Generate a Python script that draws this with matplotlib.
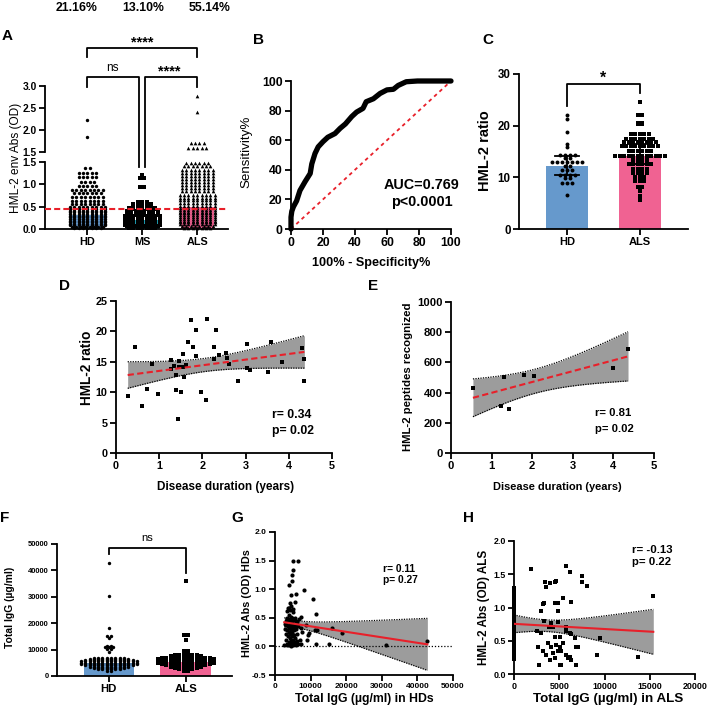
import numpy as np
import matplotlib
matplotlib.use("Agg")
import matplotlib.pyplot as plt

plt.rcParams['font.family'] = ['Liberation Sans', 'DejaVu Sans']
plt.rcParams['font.weight'] = 'bold'
plt.rcParams['axes.unicode_minus'] = False

# ---------------- data ----------------
top_pcts = ['21.16%', '13.10%', '55.14%']
a_groups = ['HD', 'MS', 'ALS']
a_cutoff = 0.44
a_bar_means = [0.32, 0.20, 0.50]
hd_lv = [2.22, 1.85, 1.36, 1.26, 1.16, 1.06, 0.96, 0.87, 0.80, 0.72, 0.63, 0.56, 0.50,
         0.45, 0.41, 0.37, 0.33, 0.29, 0.26, 0.22, 0.19, 0.15, 0.12, 0.08, 0.05, 0.02]
hd_ct = [1, 1, 2, 5, 5, 4, 5, 8, 7, 8, 8, 8, 9, 9, 9, 9, 9, 9, 9, 9, 9, 9, 9, 9, 8, 7]
ms_lv = [1.20, 1.15, 0.95, 0.61, 0.57, 0.52, 0.48, 0.44, 0.40, 0.36, 0.32, 0.29, 0.25,
         0.22, 0.18, 0.15, 0.12, 0.09, 0.06, 0.03]
ms_ct = [1, 2, 2, 3, 5, 5, 7, 7, 8, 8, 8, 9, 9, 9, 9, 9, 9, 9, 8, 7]
als_lv = [2.78, 2.40, 1.70, 1.58, 1.47, 1.40, 1.33, 1.26, 1.19, 1.12, 1.05, 0.98, 0.91,
          0.84, 0.77, 0.70, 0.64, 0.58, 0.52, 0.47, 0.43, 0.39, 0.35, 0.31, 0.27, 0.23,
          0.19, 0.15, 0.11, 0.07, 0.03]
als_ct = [1, 1, 4, 5, 6, 7, 8, 8, 8, 8, 8, 8, 8, 8, 9, 9, 9, 9, 9, 9, 9, 9, 9, 9, 9, 9,
          9, 9, 9, 8, 7]

roc_fpr = [0, 0, 0.5, 1.5, 3.5, 5.6, 8.8, 12, 13, 15, 17, 20, 23, 27.5, 30.7, 34, 38, 41,
           45, 47, 51.5, 55.7, 60, 64, 67, 72, 79, 91, 100]
roc_tpr = [0, 8, 12, 15, 19, 26, 32, 37.5, 44, 51, 55.5, 59, 62, 64.5, 68, 71, 76, 79,
           81.5, 86, 88, 91.6, 94, 94.4, 97, 99.5, 100, 100, 100]
roc_text = ['AUC=0.769', 'p<0.0001']

c_groups = ['HD', 'ALS']
c_bar = [12.2, 14.1]
c_err_lo = [10.5, 12.6]
c_err_hi = [14.2, 16.5]
c_hd_lv = [22.0, 21.2, 18.7, 16.5, 15.8, 14.3, 13.7, 13.0, 12.1, 11.5, 10.4, 9.8, 9.0, 6.6]
c_hd_ct = [1, 1, 1, 1, 1, 4, 2, 7, 2, 3, 4, 2, 3, 1]
c_als_lv = [24.5, 22.0, 20.6, 20.3, 18.3, 17.5, 16.8, 16.1, 15.1, 14.2, 13.4, 12.6, 11.6,
            10.8, 10.0, 9.2, 8.2, 7.3, 6.4, 5.6]
c_als_ct = [1, 2, 2, 2, 5, 7, 8, 9, 6, 12, 4, 6, 4, 4, 3, 3, 2, 1, 1, 1]

d_x = [0.27, 0.45, 0.60, 0.72, 0.83, 0.97, 1.27, 1.27, 1.35, 1.40, 1.40, 1.43, 1.45, 1.45,
       1.50, 1.56, 1.56, 1.57, 1.63, 1.67, 1.74, 1.78, 1.85, 1.85, 1.97, 2.08, 2.10, 2.26,
       2.27, 2.31, 2.39, 2.55, 2.58, 2.61, 2.82, 3.04, 3.04, 3.11, 3.53, 3.59, 3.84, 4.31,
       4.36, 4.36]
d_y = [9.4, 17.5, 7.8, 10.5, 14.6, 9.7, 15.3, 13.8, 14.3, 12.8, 10.4, 5.6, 15.2, 14.1,
       10.1, 16.3, 14.1, 12.5, 14.4, 18.2, 21.8, 17.5, 20.2, 15.9, 10.0, 8.7, 22.1, 17.5,
       15.5, 20.3, 16.1, 16.5, 15.6, 14.7, 11.9, 17.9, 14.0, 13.6, 13.4, 18.2, 15.0, 17.2,
       15.5, 11.8]
d_text = ['r= 0.34', 'p= 0.02']

e_x = [0.54, 1.23, 1.30, 1.43, 1.80, 2.05, 3.98, 4.36]
e_y = [429, 314, 505, 290, 516, 512, 560, 686]
e_text = ['r= 0.81', 'p= 0.02']

f_groups = ['HD', 'ALS']
f_bar = [4900, 5200]
f_hd_lv = [42800, 30400, 18000, 15300, 14500, 11500, 11000, 10300, 9000, 7000, 6500, 6000,
           5500, 5000, 4500, 4000, 3500, 3000, 2500, 2000]
f_hd_ct = [1, 1, 1, 2, 1, 2, 3, 2, 1, 8, 10, 12, 14, 14, 14, 12, 10, 8, 6, 2]
f_als_lv = [36000, 15500, 13600, 9300, 8700, 8000, 7500, 7000, 6500, 6000, 5500, 5000,
            4500, 4000, 3500, 3000, 2500, 2000]
f_als_ct = [1, 2, 1, 2, 1, 6, 8, 12, 14, 14, 14, 14, 12, 10, 8, 6, 4, 2]

g_igg = [5140, 6360, 5140, 4670, 4860, 3830, 8130, 5800, 4400, 10570, 5610, 4200, 4010,
         5140, 11500, 7200, 3450, 15900, 18700, 11700, 11200, 9620, 8890, 11500, 15230,
         31100, 42800, 8600, 9340,
         2600, 2800, 3000, 3100, 3200, 3300, 3400, 3500, 3500, 3600, 3700, 3700, 3800,
         3800, 3900, 3900, 4000, 4000, 4100, 4100, 4200, 4200, 4300, 4300, 4400, 4400,
         4500, 4500, 4600, 4600, 4700, 4700, 4800, 4800, 4900, 4900, 5000, 5000, 5100,
         5100, 5200, 5200, 5300, 5300, 5400, 5500, 5500, 5600, 5700, 5800, 5900, 6000,
         6100, 6200, 6300, 6500, 6600, 6800, 7000, 7200, 7400, 7600, 3300, 3600, 4100,
         4500, 5000, 2900, 3200, 4400]
g_od = [1.50, 1.50, 1.33, 1.24, 1.15, 1.08, 0.99, 0.92, 0.90, 0.83, 0.77, 0.76, 0.67,
        0.65, 0.57, 0.51, 0.48, 0.32, 0.24, 0.29, 0.28, 0.23, 0.11, 0.04, 0.04, 0.03,
        0.10, 0.38, 0.20,
        0.02, 0.30, 0.45, 0.12, 0.38, 0.05, 0.50, 0.28, 0.02, 0.42, 0.18, 0.35, 0.08,
        0.47, 0.25, 0.55, 0.03, 0.33, 0.40, 0.15, 0.48, 0.22, 0.05, 0.36, 0.30, 0.52,
        0.10, 0.42, 0.02, 0.27, 0.45, 0.18, 0.35, 0.06, 0.50, 0.24, 0.40, 0.02, 0.32,
        0.12, 0.46, 0.20, 0.04, 0.38, 0.28, 0.50, 0.08, 0.35, 0.15, 0.44, 0.03, 0.30,
        0.10, 0.42, 0.22, 0.05, 0.36, 0.48, 0.12, 0.32, 0.04, 0.25, 0.62, 0.68, 0.64,
        0.70, 0.60, 0.40, 0.22, 0.01]
g_text = ['r= 0.11', 'p= 0.27']

h_zero_od = [0.22, 0.26, 0.30, 0.34, 0.38, 0.42, 0.46, 0.50, 0.54, 0.58, 0.62, 0.66, 0.70,
             0.74, 0.78, 0.82, 0.86, 0.90, 0.94, 0.98, 1.02, 1.06, 1.10, 1.14, 1.18, 1.22,
             1.26, 1.29]
h_igg = [1925, 3400, 3590, 3950, 4500, 4690, 5800, 6170, 7460, 7460, 8080, 3320, 3200,
         4500, 4870, 5420, 6350, 3030, 4870, 3320, 4140, 4870, 3870, 4310, 5800, 2550,
         3030, 6170, 4500, 5050, 6720, 9490, 5420, 3770, 4140, 4690, 5050, 6900, 7090,
         2660, 3210, 3590, 4310, 4870, 5230, 5800, 6170, 3950, 4500, 6000, 6350, 9120,
         13660, 15390, 2770, 5050, 5230, 6900, 5700, 6300]
h_od = [1.58, 1.39, 1.31, 1.37, 1.39, 1.40, 1.62, 1.53, 1.48, 1.39, 1.32, 1.07, 1.06,
        1.07, 1.07, 1.14, 1.09, 0.94, 0.94, 0.80, 0.76, 0.78, 0.71, 0.71, 0.71, 0.64,
        0.62, 0.62, 0.55, 0.55, 0.54, 0.54, 0.46, 0.46, 0.41, 0.43, 0.40, 0.41, 0.40,
        0.40, 0.34, 0.29, 0.31, 0.34, 0.34, 0.29, 0.26, 0.21, 0.24, 0.24, 0.21, 0.29,
        0.25, 1.17, 0.13, 0.14, 0.13, 0.13, 0.65, 0.60]
h_text = ['r= -0.13', 'p= 0.22']

BLUE = '#6699CC'
PINK = '#F06292'
TEAL = '#1E96AA'
RED = '#E8202A'
GRAY = '#9C9C9C'

# ---------------- helpers ----------------
W, H = 709, 708
fig = plt.figure(figsize=(W / 100, H / 100), dpi=100)


def axpx(l, t, r, b):
    return fig.add_axes([l / W, 1 - b / H, (r - l) / W, (b - t) / H])


def style(ax, fs, lw=1.3):
    for s in ['top', 'right']:
        ax.spines[s].set_visible(False)
    for s in ['left', 'bottom']:
        ax.spines[s].set_linewidth(lw)
    ax.tick_params(width=lw, length=4, labelsize=fs, pad=2)


def swarm(levels, counts, dx):
    xs, ys = [], []
    for v, c in zip(levels, counts):
        off = (np.arange(c) - (c - 1) / 2.0) * dx
        xs.extend(off)
        ys.extend([v] * c)
    return np.array(xs), np.array(ys)


def tcrit(df):
    z = 1.959964
    return (z + (z ** 3 + z) / (4 * df) + (5 * z ** 5 + 16 * z ** 3 + 3 * z) / (96 * df ** 2)
            + (3 * z ** 7 + 19 * z ** 5 + 17 * z ** 3 - 15 * z) / (384 * df ** 3))


def fit_band(ax, x, y, ls):
    x = np.asarray(x, float)
    y = np.asarray(y, float)
    n = len(x)
    b, a = np.polyfit(x, y, 1)
    xs = np.linspace(x.min(), x.max(), 200)
    yh = a + b * xs
    s = np.sqrt(np.sum((y - (a + b * x)) ** 2) / (n - 2))
    sxx = np.sum((x - x.mean()) ** 2)
    se = s * np.sqrt(1.0 / n + (xs - x.mean()) ** 2 / sxx)
    t = tcrit(n - 2)
    lo, hi = yh - t * se, yh + t * se
    ax.fill_between(xs, lo, hi, color=GRAY, lw=0, zorder=1)
    ax.plot(xs, lo, color='black', ls=(0, (1, 1)), lw=0.9, zorder=2)
    ax.plot(xs, hi, color='black', ls=(0, (1, 1)), lw=0.9, zorder=2)
    ax.plot(xs, yh, color=RED, ls=ls, lw=1.5, zorder=4)


ov = fig.add_axes([0, 0, 1, 1], zorder=10)
ov.set_xlim(0, W)
ov.set_ylim(H, 0)
ov.axis('off')


def T(x, y, s, fs, **kw):
    kw.setdefault('ha', 'center')
    kw.setdefault('va', 'center')
    ov.text(x, y, s, fontsize=fs, **kw)


def xpix(ax, xv):
    return ax.transData.transform((xv, 0))[0]


def bracket(xa, xb, y, ya, yb):
    ov.plot([xa, xa, xb, xb], [ya, y, y, yb], color='black', lw=1.3)


# ---------------- Panel A ----------------
axA = axpx(45, 162, 228, 229)
axAu = axpx(45, 86, 228, 152)
for ax in (axA, axAu):
    ax.set_xlim(-0.77, 2.56)
    style(ax, 7.4)
axA.set_ylim(0, 1.5)
axAu.set_ylim(1.5, 3.0)
axA.set_yticks([0, 0.5, 1.0, 1.5])
axAu.set_yticks([1.5, 2.0, 2.5, 3.0])
axAu.spines['bottom'].set_visible(False)
axAu.set_xticks([])
axA.set_xticks(range(3))
axA.set_xticklabels(a_groups, fontsize=7.8)
axA.bar(range(3), a_bar_means, width=0.6, color=[BLUE, TEAL, PINK], zorder=1)
for i, (lv, ct, mk, sz) in enumerate([(hd_lv, hd_ct, 'o', 6), (ms_lv, ms_ct, 's', 5),
                                       (als_lv, als_ct, '^', 7)]):
    xo, yv = swarm(lv, ct, 0.08)
    low = yv <= 1.5
    axA.scatter(i + xo[low], yv[low], s=sz, marker=mk, color='black', lw=0, zorder=3,
                clip_on=False)
    axAu.scatter(i + xo[~low], yv[~low], s=sz, marker=mk, color='black', lw=0, zorder=3,
                 clip_on=False)
axA.axhline(a_cutoff, color=RED, ls=(0, (2.9, 1.5)), lw=1.5, zorder=5)
xa = [xpix(axA, i) for i in range(3)]
bracket(xa[0], xa[2], 48, 57, 57)
T((xa[0] + xa[2]) / 2, 42, '****', 10.5)
bracket(xa[0], xa[1] - 3, 77, 87, 167)
bracket(xa[1] + 3, xa[2], 77, 167, 87)
T((xa[0] + xa[1]) / 2 - 2, 68, 'ns', 8.5, fontweight='normal')
T((xa[1] + xa[2]) / 2, 71, '****', 10.5)
for x, s in zip([77, 143, 210], top_pcts):
    T(x, 8, s, 8.8)
T(16, 158, 'HML-2 env Abs (OD)', 8.6, rotation=90, fontweight='normal')
T(7, 36, 'A', 11)

# ---------------- Panel B ----------------
axB = axpx(291, 81, 451, 229)
style(axB, 8.8)
axB.set_xlim(0, 100)
axB.set_ylim(0, 100)
axB.set_xticks(range(0, 101, 20))
axB.set_yticks(range(0, 101, 20))
lims = axB.get_xlim()
axB.plot(lims, lims, color=RED, ls=(0, (2, 2)), lw=1.3, zorder=2, clip_on=False)
axB.plot(roc_fpr, roc_tpr, color='black', lw=3.8, solid_capstyle='round',
         solid_joinstyle='round', zorder=3, clip_on=False)
T(422, 185, roc_text[0], 10.4)
T(422, 202, roc_text[1], 10.4)
T(246, 152, 'Sensitivity%', 9.6, rotation=90, fontweight='normal')
T(371, 263, '100% - Specificity%', 9.1)
T(258, 40, 'B', 11)

# ---------------- Panel C ----------------
axC = axpx(519, 74, 688, 229)
style(axC, 8.3)
axC.set_xlim(-0.66, 1.66)
axC.set_ylim(0, 30)
axC.set_yticks([0, 10, 20, 30])
axC.set_xticks([0, 1])
axC.set_xticklabels(c_groups, fontsize=8)
axC.bar([0, 1], c_bar, width=0.58, color=[BLUE, PINK], zorder=1)
for i, (lv, ct, mk, dx) in enumerate([(c_hd_lv, c_hd_ct, 'o', 0.068),
                                       (c_als_lv, c_als_ct, 's', 0.062)]):
    xo, yv = swarm(lv, ct, dx)
    axC.scatter(i + xo, yv, s=8, marker=mk, color='black', lw=0, zorder=3)
    axC.plot([i, i], [c_err_lo[i], c_err_hi[i]], color='black', lw=1.3, zorder=4)
    for yy in (c_err_lo[i], c_err_hi[i]):
        axC.plot([i - 0.17, i + 0.17], [yy, yy], color='black', lw=1.3, zorder=4)
xc = [xpix(axC, i) for i in range(2)]
bracket(xc[0], xc[1], 84, 106, 93)
T((xc[0] + xc[1]) / 2, 78, '*', 11.5)
T(485, 151, 'HML-2 ratio', 10.5, rotation=90)
T(488, 40, 'C', 11)

# ---------------- Panel D ----------------
axD = axpx(116, 301, 332, 453)
style(axD, 7.8)
axD.set_xlim(0, 5)
axD.set_ylim(0, 25)
axD.set_xticks(range(6))
axD.set_yticks(range(0, 26, 5))
fit_band(axD, d_x, d_y, (0, (3, 1.6)))
axD.scatter(d_x, d_y, s=12, marker='s', color='black', lw=0, zorder=3)
T(272, 415, d_text[0], 8.8, ha='left')
T(272, 431, d_text[1], 8.8, ha='left')
T(87, 368, 'HML-2 ratio', 9.8, rotation=90)
T(226, 487, 'Disease duration (years)', 8.5)
T(65, 286, 'D', 11)

# ---------------- Panel E ----------------
axE = axpx(451, 302, 654, 453)
style(axE, 8.1)
axE.set_xlim(0, 5)
axE.set_ylim(0, 1000)
axE.set_xticks(range(6))
axE.set_yticks(range(0, 1001, 200))
fit_band(axE, e_x, e_y, (0, (3, 1.6)))
axE.scatter(e_x, e_y, s=12, marker='s', color='black', lw=0, zorder=3)
T(595, 413, e_text[0], 8.1, ha='left')
T(595, 429, e_text[1], 8.1, ha='left')
T(408, 377, 'HML-2 peptides recognized', 8.2, rotation=90)
T(557, 487, 'Disease duration (years)', 7.9)
T(373, 286, 'E', 11)

# ---------------- Panel F ----------------
axF = axpx(57, 544, 232, 676)
style(axF, 5.4)
axF.set_xlim(-0.675, 1.6)
axF.set_ylim(0, 50000)
axF.set_yticks(range(0, 50001, 10000))
axF.set_xticks([0, 1])
axF.set_xticklabels(f_groups, fontsize=8.2)
axF.bar([0, 1], f_bar, width=0.66, color=[BLUE, PINK], zorder=1)
for i, (lv, ct, mk) in enumerate([(f_hd_lv, f_hd_ct, 'o'), (f_als_lv, f_als_ct, 's')]):
    xo, yv = swarm(lv, ct, 0.056)
    axF.scatter(i + xo, yv, s=6, marker=mk, color='black', lw=0, zorder=3)
xf = [xpix(axF, i) for i in range(2)]
bracket(xf[0], xf[1], 548, 554, 573)
T((xf[0] + xf[1]) / 2, 538, 'ns', 8, fontweight='normal')
T(10, 607, 'Total IgG (µg/ml)', 7.5, rotation=90)
T(5, 518, 'F', 11)

# ---------------- Panel G ----------------
axG = axpx(275, 532, 453, 675)
style(axG, 6.0)
axG.set_xlim(0, 50000)
axG.set_ylim(-0.5, 2.0)
axG.set_xticks(range(0, 50001, 10000))
axG.set_yticks([-0.5, 0, 0.5, 1.0, 1.5, 2.0])
axG.axhline(0, color='black', ls=(0, (1, 1.5)), lw=0.9, zorder=2)
fit_band(axG, g_igg, g_od, '-')
axG.scatter(g_igg, g_od, s=9, marker='o', color='black', lw=0, zorder=3)
T(383, 569, g_text[0], 7.4, ha='left')
T(383, 580, g_text[1], 7.4, ha='left')
T(247, 603, 'HML-2 Abs (OD) HDs', 7.8, rotation=90)
T(364, 699, 'Total IgG (µg/ml) in HDs', 8.8)
T(237, 518, 'G', 11)

# ---------------- Panel H ----------------
axH = axpx(514, 541, 695, 674)
style(axH, 6.4)
axH.set_xlim(0, 20000)
axH.set_ylim(0, 2.0)
axH.set_xticks(range(0, 20001, 5000))
axH.set_yticks([0, 0.5, 1.0, 1.5, 2.0])
hx = [0] * len(h_zero_od) + h_igg
hy = h_zero_od + h_od
fit_band(axH, hx, hy, '-')
axH.scatter(hx, hy, s=12, marker='s', color='black', lw=0, zorder=3, clip_on=False)
T(632, 550, h_text[0], 8.2, ha='left')
T(632, 562, h_text[1], 8.2, ha='left')
T(484, 607, 'HML-2 Abs (OD) ALS', 8.4, rotation=90)
T(608, 699, 'Total IgG (µg/ml) in ALS', 9.6)
T(469, 518, 'H', 11)

fig.savefig('out.png', dpi=100)
